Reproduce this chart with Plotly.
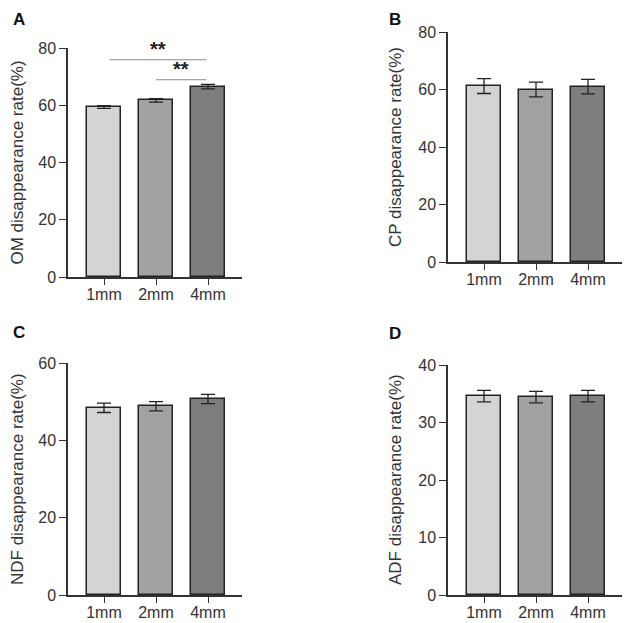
import plotly.graph_objects as go

# The page body adds an 8px margin, so the figure is drawn 8px smaller and
# all pixel positions are shifted by that offset.
OFF = 8
W, H = 630 - OFF, 623 - OFF

categories = ["1mm", "2mm", "4mm"]
bar_colors = ["#d4d4d4", "#a2a2a5", "#7e7e7e"]

om_values = [59.4, 61.7, 66.5]
om_err = [0.5, 0.6, 0.8]
cp_values = [61.2, 60.0, 61.0]
cp_err = [2.6, 2.6, 2.5]
ndf_values = [48.4, 48.8, 50.7]
ndf_err = [1.2, 1.2, 1.2]
adf_values = [34.6, 34.4, 34.6]
adf_err = [1.0, 1.0, 1.0]

titles = ["OM disappearance rate(%)", "CP disappearance rate(%)",
          "NDF disappearance rate(%)", "ADF disappearance rate(%)"]
letters = ["A", "B", "C", "D"]
y_max = [80, 80, 60, 40]
y_dtick = [20, 20, 20, 10]

# significance: (from index, to index, line level, label)
sig_A = [(0, 2, 75.9, "**"), (1, 2, 68.9, "**")]

# panel geometry in page pixels: (axis left x, axis right x, top y (ymax), bottom y (0))
geo = [(68, 242, 48, 277), (448, 622, 32, 262),
       (68, 242, 363, 595), (448, 622, 365, 595)]
letter_pos = [(19, 19), (395, 19), (19, 332), (395, 333)]
title_x = [17, 395, 17, 395]

series = [(om_values, om_err), (cp_values, cp_err),
          (ndf_values, ndf_err), (adf_values, adf_err)]


def px(x):
    return (x - OFF) / W


def py(y):
    return (H - (y - OFF)) / H


fig = go.Figure()
FONT = "Arial, Liberation Sans, sans-serif"
spacing = 52.0
center0 = 36.0

for i, ((vals, errs), (xl, xr, yt, yb)) in enumerate(zip(series, geo)):
    n = "" if i == 0 else str(i + 1)
    fig.add_trace(go.Bar(
        x=list(range(len(categories))), y=vals,
        marker=dict(color=bar_colors, line=dict(color="#222222", width=1.5)),
        width=34 / spacing,
        error_y=dict(type="data", array=errs, visible=True, color="#222222",
                     thickness=1.3, width=7),
        xaxis="x" + n, yaxis="y" + n, showlegend=False))
    xlo = -center0 / spacing
    xhi = (xr - xl - center0) / spacing
    fig.layout["xaxis" + n] = dict(
        domain=[px(xl), min(px(xr), 1)], range=[xlo, xhi], anchor="y" + n, automargin=False,
        tickmode="array", tickvals=list(range(len(categories))), ticktext=categories,
        showline=True, linecolor="#333333", linewidth=1.5, ticks="outside",
        ticklen=6, tickwidth=1.3, tickcolor="#333333", showgrid=False, zeroline=False,
        ticklabelstandoff=-4,
        tickfont=dict(family=FONT, size=16, color="#333333"), fixedrange=True)
    fig.layout["yaxis" + n] = dict(
        domain=[py(yb), py(yt)], range=[0, y_max[i]], anchor="x" + n,
        automargin=False,
        dtick=y_dtick[i], showline=True, linecolor="#333333", linewidth=1.5,
        ticks="outside", ticklen=7, tickwidth=1.3, tickcolor="#333333",
        showgrid=False, zeroline=False,
        tickfont=dict(family=FONT, size=16, color="#333333"), fixedrange=True)
    fig.add_annotation(x=px(title_x[i]), y=py((yt + yb) / 2), xref="paper", yref="paper",
                       xanchor="center", yanchor="middle",
                       text=titles[i], textangle=-90, showarrow=False,
                       font=dict(family=FONT, size=17, color="#333333"))
    lx, ly = letter_pos[i]
    fig.add_annotation(x=px(lx), y=py(ly), xref="paper", yref="paper",
                       xanchor="center", yanchor="middle",
                       text="<b>" + letters[i] + "</b>", showarrow=False,
                       font=dict(family=FONT, size=17, color="#111111"))

for a, b, lvl, lab in sig_A:
    x0 = a + 0.11 if a == 0 else a
    x1 = b - 0.03
    fig.add_shape(type="line", x0=x0, x1=x1, y0=lvl, y1=lvl, xref="x", yref="y",
                  line=dict(color="#8a8a8a", width=1.2))
    fig.add_annotation(x=(x0 + x1) / 2, y=lvl, xref="x", yref="y", text="<b>" + lab + "</b>",
                       showarrow=False, yanchor="bottom", yshift=-2,
                       font=dict(family=FONT, size=20, color="#222222"))

fig.update_layout(width=W, height=H, margin=dict(l=0, r=0, t=0, b=0),
                  paper_bgcolor="white", plot_bgcolor="white", bargap=0)
fig.write_html("out.html")
